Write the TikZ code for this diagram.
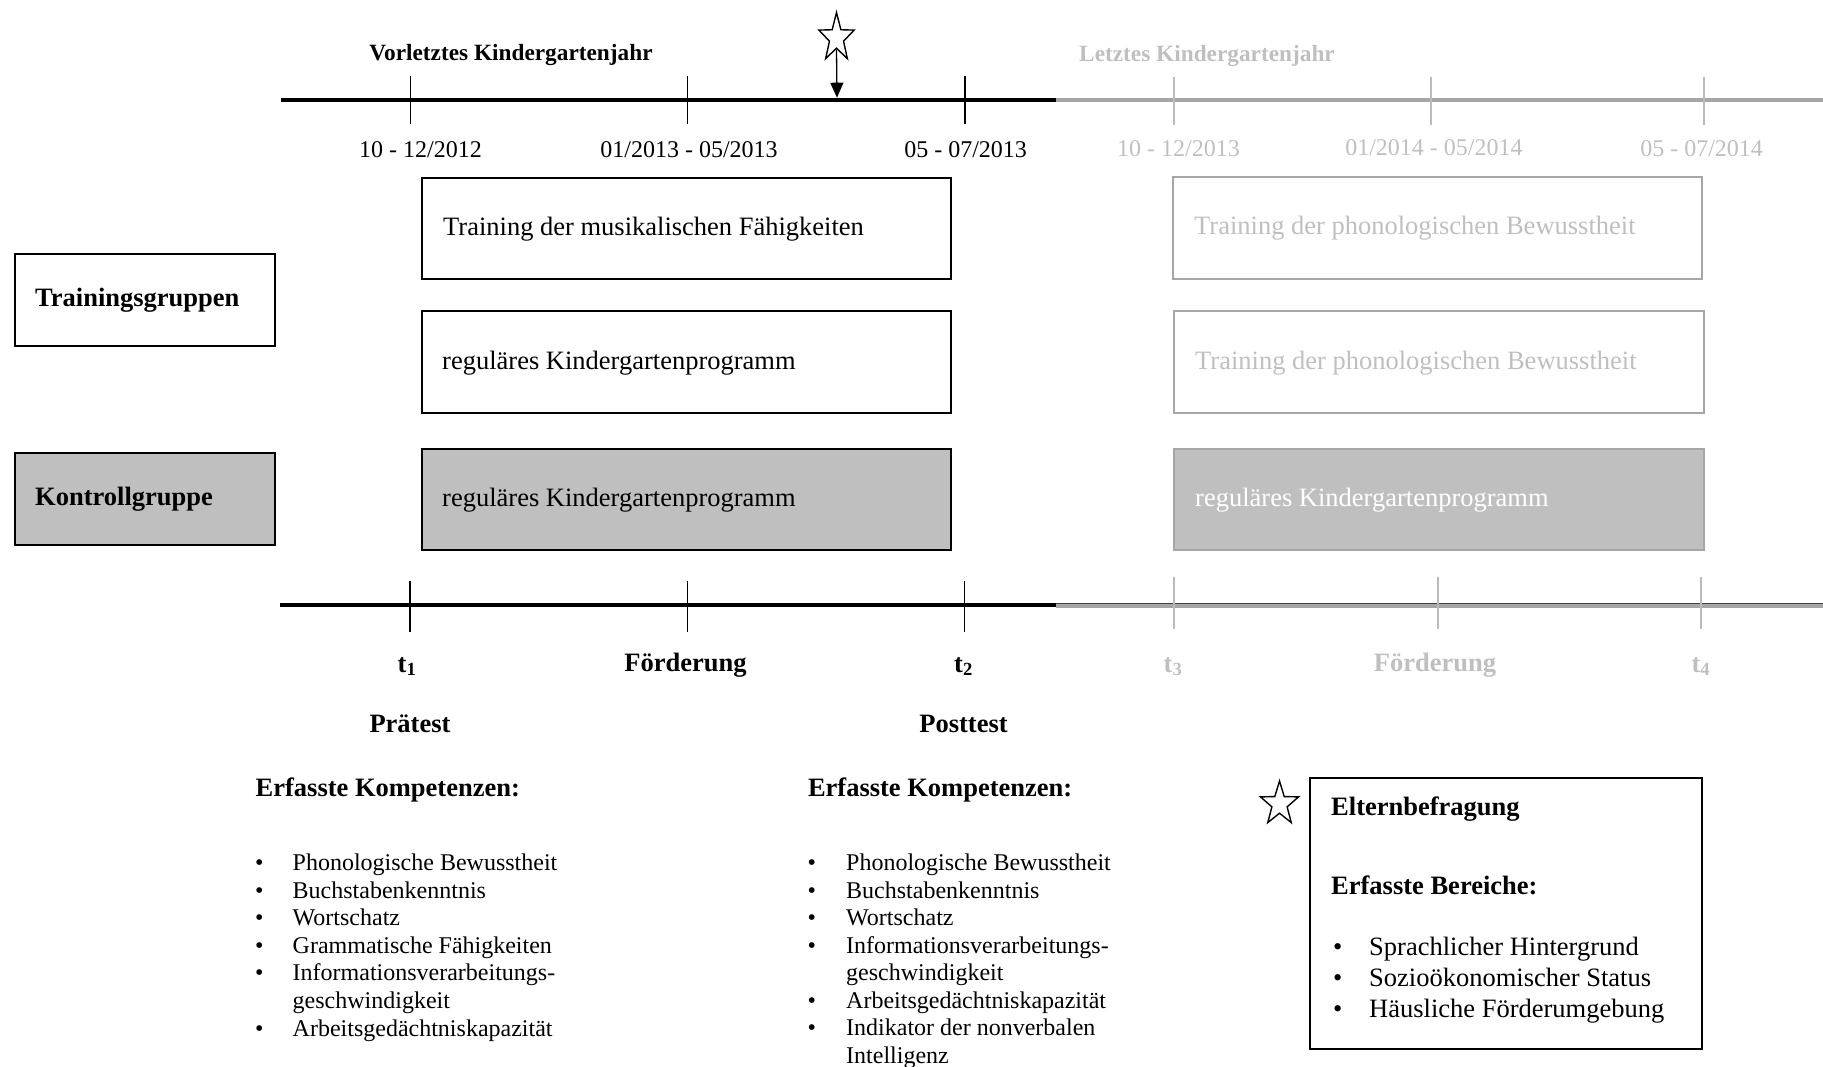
\documentclass[tikz,border=0pt]{standalone}
\usepackage{fontspec}
\setmainfont{Liberation Serif}
\usetikzlibrary{shapes.geometric,arrows.meta}

\definecolor{fillgrey}{HTML}{BFBFBF}
\definecolor{axisgrey}{HTML}{A6A6A6}
\definecolor{ghost}{HTML}{BFBFBF}
\definecolor{ghosttick}{HTML}{BBBBBB}

\newcommand\fsz[1]{\fontsize{#1pt}{#1pt}\selectfont}

\tikzset{
  txt/.style={inner sep=0pt, anchor=base west, font=\fsz{26.5}},
  ctxt/.style={inner sep=0pt, anchor=base, font=\fsz{26.5}\bfseries},
  hdr/.style={inner sep=0pt, anchor=base, font=\fsz{23.3}\bfseries},
  datelbl/.style={inner sep=0pt, anchor=base, font=\fsz{24}},
  listtxt/.style={inner sep=0pt, anchor=base west, font=\fsz{24}},
  eltxt/.style={inner sep=0pt, anchor=base west, font=\fsz{26.5}},
  blkbox/.style={draw=black, line width=1.8pt, inner sep=0pt},
  greybox/.style={draw=axisgrey, line width=1.8pt, inner sep=0pt},
  rowbox/.style={minimum width=529.7pt, minimum height=101.5pt},
  groupbox/.style={blkbox, minimum width=260.3pt, minimum height=92pt},
  starmark/.style={star, star points=5, star point ratio=2.5, draw=black,
    line width=1.4pt, inner sep=0pt, fill=white},
  axis/.style={line width=4pt},
  tick/.style={line width=1.5pt},
  gtick/.style={ghosttick, line width=2pt},
}

\begin{document}
\begin{tikzpicture}[x=1pt, y=-1pt]
\useasboundingbox (0,0) rectangle (1823,1066);

% ---------- upper time axis ----------
\draw[axis] (281,99.7) -- (1056,99.7);
\draw[axis, axisgrey] (1056,99.7) -- (1823,99.7);
\foreach \x in {410.4,687.3,964.8} \draw[tick] (\x,76) -- (\x,124);
\foreach \x in {1174,1431,1704} \draw[gtick] (\x,77) -- (\x,125);

\node[hdr] (yr1) at (511,60) {Vorletztes Kindergartenjahr};
\node[hdr, text=ghost] (yr2) at (1207,61) {Letztes Kindergartenjahr};

\node[datelbl] (d1) at (420.5,157) {10 - 12/2012};
\node[datelbl] (d2) at (689,157) {01/2013 - 05/2013};
\node[datelbl] (d3) at (965.6,157) {05 - 07/2013};
\node[datelbl, text=ghost] (d4) at (1178.5,156.7) {10 - 12/2013};
\node[datelbl, text=ghost] (d5) at (1433.9,155) {01/2014 - 05/2014};
\node[datelbl, text=ghost] (d6) at (1701.6,156) {05 - 07/2014};

% parent survey marker on the axis
\node[starmark, minimum size=37pt, yscale=1.38] (s1) at (836.5,38) {};
\coordinate (surveytip) at (837,97.7);
\draw[line width=1.3pt, -{Triangle[length=15pt,width=13pt]}] (s1.south) -- (surveytip);

% ---------- groups ----------
\node[groupbox] (tg) at (144.85,300) {};
\node[txt, font=\fsz{26.5}\bfseries] (tgt) at (35,306.5) {Trainingsgruppen};
\node[groupbox, fill=fillgrey] (kg) at (144.85,499.3) {};
\node[txt, font=\fsz{26.5}\bfseries] (kgt) at (35,505.5) {Kontrollgruppe};

% ---------- programme boxes, first year ----------
\node[blkbox, rowbox] (a1) at (686.45,228.5) {};
\node[txt] (a1t) at (443,235.5) {Training der musikalischen Fähigkeiten};
\node[blkbox, rowbox] (a2) at (686.45,361.85) {};
\node[txt] (a2t) at (442,369.5) {reguläres Kindergartenprogramm};
\node[blkbox, rowbox, fill=fillgrey] (a3) at (686.45,499.5) {};
\node[txt] (a3t) at (442,506.5) {reguläres Kindergartenprogramm};

% ---------- programme boxes, second year ----------
\node[greybox, rowbox, minimum width=528.6pt] (b1) at (1437.5,228) {};
\node[txt, text=ghost] (b1t) at (1194,234) {Training der phonologischen Bewusstheit};
\node[greybox, rowbox] (b2) at (1439.2,361.85) {};
\node[txt, text=ghost] (b2t) at (1195,369) {Training der phonologischen Bewusstheit};
\node[greybox, rowbox, fill=fillgrey] (b3) at (1439.2,499.35) {};
\node[txt, text=white] (b3t) at (1195,506.5) {reguläres Kindergartenprogramm};

% ---------- lower time axis ----------
\draw[axis] (280.4,605) -- (1056,605);
\draw[axis, axisgrey] (1056,605.7) -- (1823,605.7);
\draw[line width=0.8pt, black!75] (1056,603.2) -- (1823,603.2);
\foreach \x in {410,687.4,964.6} \draw[tick] (\x,580.7) -- (\x,632.3);
\foreach \x in {1174.3,1437.8,1701.3} \draw[gtick] (\x,576.7) -- (\x,629);

\node[ctxt] (t1) at (407,672) {t\textsubscript{1}};
\node[ctxt] (f1) at (685.4,671.5) {Förderung};
\node[ctxt] (t2) at (963.5,672) {t\textsubscript{2}};
\node[ctxt, text=ghost] (t3) at (1173,672) {t\textsubscript{3}};
\node[ctxt, text=ghost] (f2) at (1435,671.5) {Förderung};
\node[ctxt, text=ghost] (t4) at (1700.8,672) {t\textsubscript{4}};

\node[ctxt] (pre) at (410,732.5) {Prätest};
\node[ctxt] (post) at (963.5,732.5) {Posttest};

% ---------- assessed competences ----------
\node[txt, font=\fsz{26.5}\bfseries] (k1) at (255.5,796) {Erfasste Kompetenzen:};
\node[txt, font=\fsz{26.5}\bfseries] (k2) at (807.8,796) {Erfasste Kompetenzen:};

\foreach \t [count=\i from 0] in {Phonologische Bewusstheit, Buchstabenkenntnis,
    Wortschatz, Grammatische Fähigkeiten, Informationsverarbeitungs-} {
  \node[listtxt] (lb\i) at (255,870.5+27.6*\i) {\textbullet};
  \node[listtxt] (lt\i) at (292.5,870.5+27.6*\i) {\t};
}
\node[listtxt] (lt5) at (292.5,870.5+27.6*5) {geschwindigkeit};
\node[listtxt] (lb6) at (255,870.5+27.6*6) {\textbullet};
\node[listtxt] (lt6) at (292.5,870.5+27.6*6) {Arbeitsgedächtniskapazität};

\foreach \t [count=\i from 0] in {Phonologische Bewusstheit, Buchstabenkenntnis,
    Wortschatz, Informationsverarbeitungs-} {
  \node[listtxt] (rb\i) at (807.5,870.5+27.5*\i) {\textbullet};
  \node[listtxt] (rt\i) at (846,870.5+27.5*\i) {\t};
}
\node[listtxt] (rt4) at (846,870.5+27.5*4) {geschwindigkeit};
\node[listtxt] (rb5) at (807.5,870.5+27.5*5) {\textbullet};
\node[listtxt] (rt5) at (846,870.5+27.5*5) {Arbeitsgedächtniskapazität};
\node[listtxt] (rb6) at (807.5,870.5+27.5*6) {\textbullet};
\node[listtxt] (rt6) at (846,870.5+27.5*6) {Indikator der nonverbalen};
\node[listtxt] (rt7) at (846,870.5+27.5*7) {Intelligenz};

% ---------- parent survey ----------
\node[blkbox, minimum width=391.8pt, minimum height=271pt] (eb) at (1505.9,913.8) {};
\node[starmark, minimum size=40pt, yscale=1.15] (s2) at (1279.5,804) {};
\node[txt, font=\fsz{26.5}\bfseries] (ebh) at (1331,815.5) {Elternbefragung};
\node[txt, font=\fsz{26.5}\bfseries] (ebb) at (1331,894) {Erfasste Bereiche:};
\foreach \t/\y [count=\i] in {Sprachlicher Hintergrund/955.5, Sozioökonomischer Status/986.8,
    Häusliche Förderumgebung/1017.8} {
  \node[eltxt] (eb\i) at (1333,\y) {\textbullet};
  \node[eltxt] (et\i) at (1369,\y) {\t};
}
\end{tikzpicture}
\end{document}
